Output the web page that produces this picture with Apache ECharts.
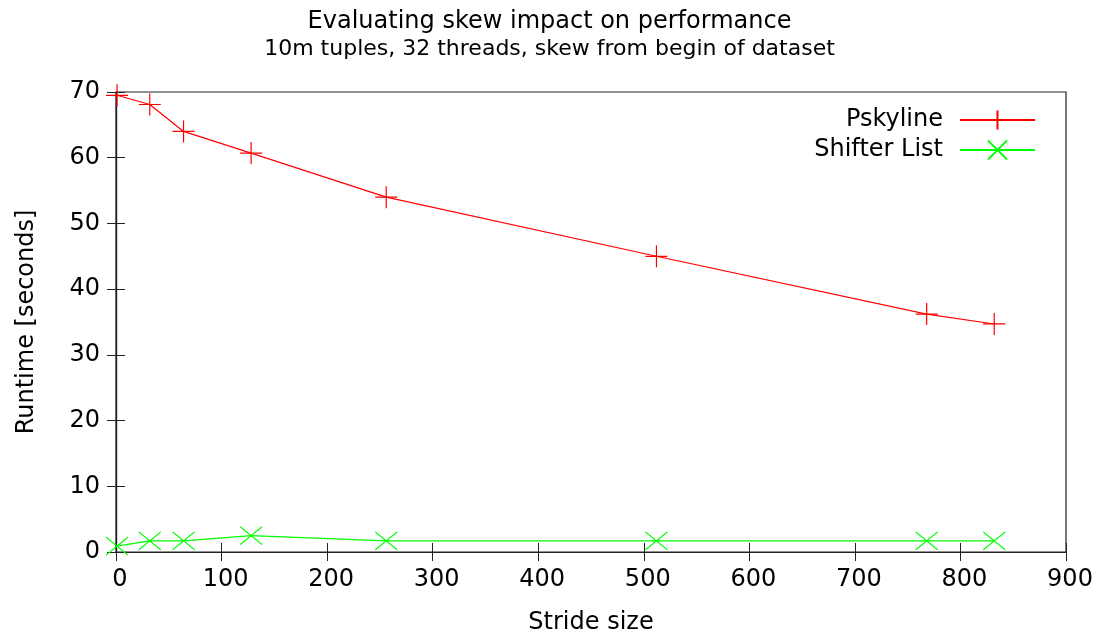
<!DOCTYPE html>
<html>
<head>
<meta charset="utf-8">
<script src="https://cdn.jsdelivr.net/npm/echarts@6/dist/echarts.min.js"></script>
<style>html,body{margin:0;padding:0;background:#fff}#c{width:1099px;height:640px}</style>
</head>
<body>
<div id="c"></div>
<script>
const strides = [1, 32, 64, 128, 256, 512, 768, 832];
const pskyline = [69.5, 68.1, 64.0, 60.7, 54.0, 45.0, 36.2, 34.7];
const shifterList = [0.9, 1.7, 1.7, 2.5, 1.7, 1.7, 1.7, 1.7];
const seriesNames = ['Pskyline', 'Shifter List'];
const titleText = 'Evaluating skew impact on performance';
const subtitleText = '10m tuples, 32 threads, skew from begin of dataset';
const xLabel = 'Stride size';
const yLabel = 'Runtime [seconds]';

const font = 'DejaVu Sans';
const chart = echarts.init(document.getElementById('c'), null, {renderer: 'canvas'});
const plusPath = 'path://M0,10L20,10M10,0L10,20';
const crossPath = 'path://M0,0L20,20M20,0L0,20';
function pairs(xs, ys) { return xs.map((x, i) => [x, ys[i]]); }
const axisCommon = {
  axisLine: {show: true, lineStyle: {color: '#222', width: 1.2}},
  axisTick: {show: true, inside: true, length: 9, lineStyle: {color: '#222'}},
  splitLine: {show: false}
};
chart.setOption({
  animation: false,
  backgroundColor: '#fff',
  textStyle: {fontFamily: font},
  title: {
    text: titleText, subtext: subtitleText, left: 'center', top: 5, itemGap: 4,
    textStyle: {fontFamily: font, fontSize: 24, fontWeight: 'normal', color: '#000'},
    subtextStyle: {fontFamily: font, fontSize: 22, color: '#000'}
  },
  grid: {left: 116, right: 33, top: 92, bottom: 88, show: true, borderColor: '#222', borderWidth: 1.2},
  legend: {
    data: seriesNames, orient: 'vertical', right: 58, top: 103, align: 'right',
    itemWidth: 75, itemHeight: 24, itemGap: 6,
    textStyle: {fontFamily: font, fontSize: 24, color: '#000', padding: [0, 12, 0, 0]}
  },
  xAxis: [
    Object.assign({type: 'value', min: 0, max: 900, interval: 100, position: 'bottom',
      name: xLabel, nameLocation: 'middle', nameGap: 59,
      nameTextStyle: {fontFamily: font, fontSize: 24, color: '#000'},
      axisLabel: {fontFamily: font, fontSize: 24, color: '#000', margin: 16, padding: [0, 0, 0, 8]}}, axisCommon),
    Object.assign({type: 'value', min: 0, max: 900, interval: 100, position: 'top',
      axisLabel: {show: false}}, axisCommon)
  ],
  yAxis: [
    Object.assign({type: 'value', min: 0, max: 70, interval: 10, position: 'left',
      name: yLabel, nameLocation: 'middle', nameGap: 77, nameRotate: 90,
      nameTextStyle: {fontFamily: font, fontSize: 24, color: '#000'},
      axisLabel: {fontFamily: font, fontSize: 24, color: '#000', margin: 16}}, axisCommon),
    Object.assign({type: 'value', min: 0, max: 70, interval: 10, position: 'right',
      axisLabel: {show: false}}, axisCommon)
  ],
  series: [
    {
      name: seriesNames[0], type: 'line', data: pairs(strides, pskyline),
      symbol: plusPath, symbolSize: 22, showAllSymbol: true,
      lineStyle: {color: '#ff0000', width: 1.2},
      itemStyle: {color: '#ff0000', borderColor: '#ff0000', borderWidth: 1.2}
    },
    {
      name: seriesNames[1], type: 'line', data: pairs(strides, shifterList),
      symbol: crossPath, symbolSize: [22, 18], showAllSymbol: true,
      lineStyle: {color: '#00ff00', width: 1.2},
      itemStyle: {color: '#00ff00', borderColor: '#00ff00', borderWidth: 1.2}
    }
  ]
});
</script>
</body>
</html>
